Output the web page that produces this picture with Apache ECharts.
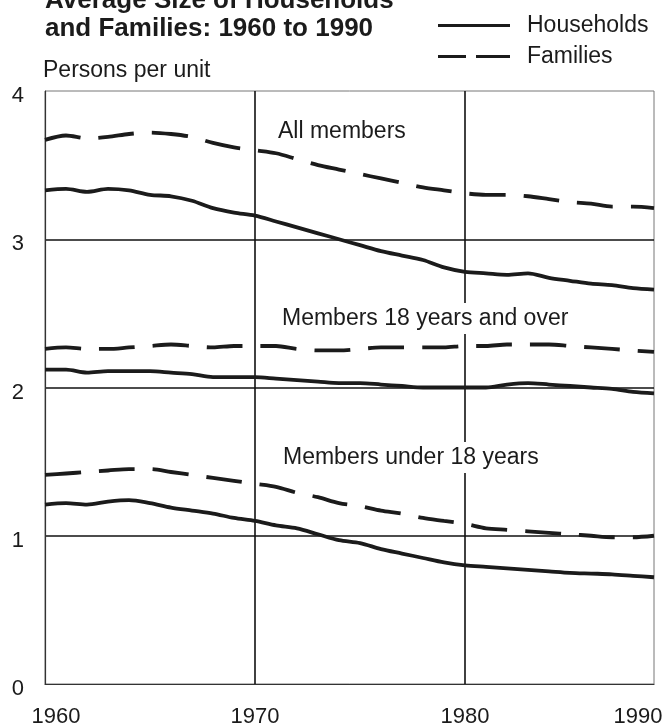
<!DOCTYPE html>
<html>
<head>
<meta charset="utf-8">
<script src="https://cdn.jsdelivr.net/npm/echarts@6/dist/echarts.min.js"></script>
<style>
html,body{margin:0;padding:0;background:#fff;}
#chart{width:664px;height:723px;}
</style>
</head>
<body>
<div id="chart"></div>
<script>
// Years (annual)
const years = [1960,1961,1962,1963,1964,1965,1966,1967,1968,1969,1970,1971,1972,1973,1974,1975,1976,1977,1978,1979,1980,1981,1982,1983,1984,1985,1986,1987,1988,1989];

// All members
const hhAll  = [3.33,3.34,3.32,3.34,3.33,3.30,3.29,3.26,3.21,3.18,3.16,3.12,3.08,3.04,3.00,2.96,2.92,2.89,2.86,2.81,2.78,2.77,2.76,2.77,2.74,2.72,2.70,2.69,2.67,2.66];
const famAll = [3.67,3.70,3.68,3.69,3.71,3.72,3.71,3.69,3.65,3.62,3.60,3.58,3.54,3.50,3.47,3.44,3.41,3.38,3.35,3.33,3.31,3.30,3.30,3.29,3.27,3.25,3.24,3.22,3.22,3.21];

// Members 18 years and over
const hhAdult  = [2.12,2.12,2.10,2.11,2.11,2.11,2.10,2.09,2.07,2.07,2.07,2.06,2.05,2.04,2.03,2.03,2.02,2.01,2.00,2.00,2.00,2.00,2.02,2.03,2.02,2.01,2.00,1.99,1.97,1.96];
const famAdult = [2.26,2.27,2.26,2.26,2.27,2.28,2.29,2.28,2.27,2.28,2.28,2.28,2.26,2.25,2.25,2.26,2.27,2.27,2.27,2.27,2.28,2.28,2.29,2.29,2.29,2.28,2.27,2.26,2.25,2.24];

// Members under 18 years
const hhChild  = [1.21,1.22,1.21,1.23,1.24,1.22,1.19,1.17,1.15,1.12,1.10,1.07,1.05,1.01,0.97,0.95,0.91,0.88,0.85,0.82,0.80,0.79,0.78,0.77,0.76,0.75,0.745,0.74,0.73,0.72];
const famChild = [1.41,1.42,1.43,1.44,1.45,1.45,1.43,1.41,1.39,1.37,1.35,1.33,1.29,1.26,1.22,1.20,1.17,1.15,1.12,1.10,1.08,1.05,1.04,1.03,1.02,1.01,1.00,0.99,0.99,1.00];

// Tick labels
const xTickLabels = ['1960','1970','1980','1990'];
const yTickLabels = ['0','1','2','3','4'];

const titleText = 'Average Size of Households\nand Families: 1960 to 1990';
const groupLabels = ['All members','Members 18 years and over','Members under 18 years'];

const FONT = '"Liberation Sans", Arial, Helvetica, sans-serif';
const INK = '#1b1b1b';

function pairs(vals){ return years.map((y,i)=>[y, vals[i]]); }

function lineSeries(name, vals, dashed){
  return {
    type:'line', name:name, data:pairs(vals), symbol:'none', smooth:0.3,
    lineStyle:{color:INK, width:3.8, type: dashed ? [36,18] : 'solid', cap:'butt'},
    itemStyle:{color:INK},
    emphasis:{disabled:true}, silent:true, animation:false
  };
}

function annot(text, left, top){
  return {type:'text', left:left, top:top, z:50,
    style:{text:text, font:'23px ' + FONT, fill:INK, backgroundColor:'#fff', padding:[4,2,4,2]}};
}

const chart = echarts.init(document.getElementById('chart'), null, {renderer:'canvas'});
chart.setOption({
  backgroundColor:'#fff',
  animation:false,
  title:{
    text:titleText, left:40, top:-18,
    textStyle:{fontFamily:FONT, fontSize:26, fontWeight:'bold', color:INK, lineHeight:28}
  },
  legend:{
    orient:'vertical', left:433, top:9, itemWidth:72, itemHeight:20, itemGap:8,
    selectedMode:false,
    textStyle:{fontFamily:FONT, fontSize:23, color:INK, padding:[0,0,0,12]},
    data:[
      {name:'Households', icon:'path://M0,0H72V3H0Z'},
      {name:'Families', icon:'path://M0,0H28V3H0Z M38,0H72V3H38Z'}
    ]
  },
  grid:{left:45, right:10, top:91, bottom:39, show:true, borderColor:'#777', borderWidth:1,
        containLabel:false, outerBoundsMode:'none'},
  xAxis:{
    type:'value', min:1960, max:1989, interval:10,
    axisLine:{show:true, lineStyle:{color:'#333', width:1.2}},
    axisTick:{show:false},
    splitLine:{show:true, showMinLine:false, showMaxLine:false, lineStyle:{color:'#111', width:1.6}},
    axisLabel:{
      fontFamily:FONT, fontSize:22, color:INK, margin:22, hideOverlap:false,
      formatter:function(v, i){
        const t = xTickLabels[i];
        if (i === 0) return '{first|' + t + '}';
        if (i === xTickLabels.length - 1) return '{last|' + t + '}';
        return t;
      },
      rich:{
        first:{fontFamily:FONT, fontSize:22, color:INK, padding:[0,0,0,22]},
        last:{fontFamily:FONT, fontSize:22, color:INK, padding:[0,32,0,0]}
      }
    }
  },
  yAxis:{
    type:'value', min:0, max:4, interval:1,
    name:'Persons per unit', nameLocation:'end', nameGap:9,
    nameTextStyle:{fontFamily:FONT, fontSize:23, color:INK, align:'left', padding:[0,0,0,-2]},
    axisLine:{show:true, lineStyle:{color:'#333', width:1.2}},
    axisTick:{show:false},
    splitLine:{show:true, showMinLine:false, showMaxLine:false, lineStyle:{color:'#111', width:1.6}},
    axisLabel:{fontFamily:FONT, fontSize:22, color:INK, margin:21,
      formatter:function(v, i){ return '{a|' + yTickLabels[i] + '}'; },
      rich:{a:{fontFamily:FONT, fontSize:22, color:INK, padding:[10,0,0,0]}}
    }
  },
  graphic:[
    annot(groupLabels[0], 276, 116),
    annot(groupLabels[1], 280, 303),
    annot(groupLabels[2], 281, 442)
  ],
  series:[
    lineSeries('Households', hhAll, false),
    lineSeries('Families', famAll, true),
    lineSeries('Households', hhAdult, false),
    lineSeries('Families', famAdult, true),
    lineSeries('Households', hhChild, false),
    lineSeries('Families', famChild, true)
  ]
});
</script>
</body>
</html>
